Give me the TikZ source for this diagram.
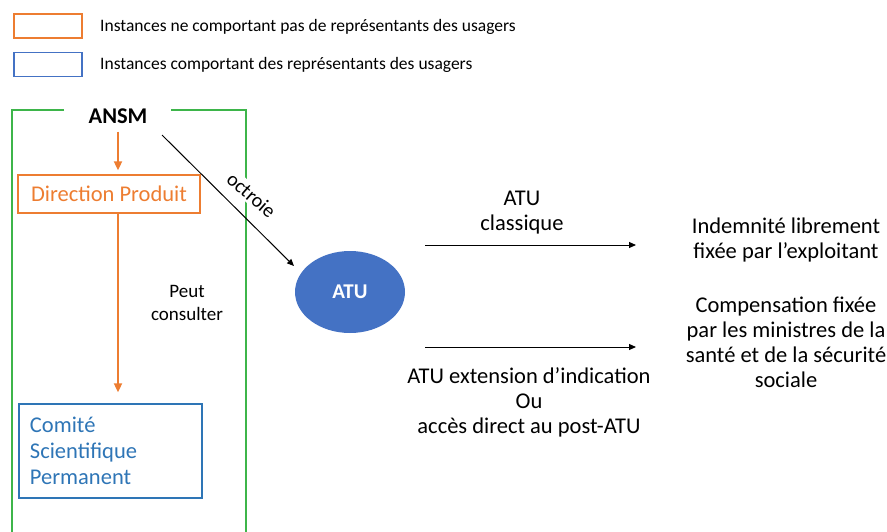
\documentclass[tikz,border=0pt]{standalone}
\usepackage{fontspec}
\setmainfont{Carlito}
\usetikzlibrary{arrows.meta,shapes.geometric}
\definecolor{orng}{HTML}{ED7D31}
\definecolor{blu}{HTML}{2E75B6}
\definecolor{lgblu}{HTML}{4472C4}
\definecolor{grn}{HTML}{3DB54A}
\definecolor{atufill}{HTML}{4472C4}
\begin{document}
\begin{tikzpicture}[x=1pt,y=-1pt,
  main/.style={font=\fontsize{22.5}{25}\selectfont, align=center, inner sep=0pt},
  small/.style={font=\fontsize{19}{23}\selectfont, align=center, inner sep=0pt},
  legtxt/.style={font=\fontsize{17.5}{20}\selectfont, anchor=west, inner sep=0pt},
  legbox/.style={draw=#1, line width=1.3pt, minimum width=68pt, minimum height=24pt, inner sep=0pt},
  tip/.style={-{Triangle[length=7pt,width=6pt]}},
  blackarrow/.style={draw=black, line width=1pt, tip},
  orangearrow/.style={draw=orng, line width=1.8pt, -{Triangle[length=9pt,width=8pt]}}
]
\useasboundingbox (0,0) rectangle (887,531);

% legend
\node[legbox=orng] (lg1) at (48,26) {};
\node[legbox=lgblu] (lg2) at (48,64.5) {};
\node[legtxt] (lt1) at (100,27) {Instances ne comportant pas de représentants des usagers};
\node[legtxt] (lt2) at (100,64.5) {Instances comportant des représentants des usagers};

% green frame
\draw[grn, line width=1.2pt] (64,110) -- (12,110) -- (12,540);
\draw[grn, line width=1.2pt] (171,110) -- (246,110) -- (246,540);

% nodes
\node[font=\fontsize{22.5}{25}\selectfont\bfseries, inner sep=0pt] (ansm) at (118,116) {ANSM};
\node[draw=orng, text=orng, line width=1.3pt, minimum width=182pt, minimum height=38pt,
      inner sep=0pt, font=\fontsize{22.5}{25}\selectfont] (dp) at (109,194) {Direction Produit};
\node[draw=blu, text=blu, line width=1.3pt, minimum height=94pt, text width=161pt,
      inner xsep=11pt, inner ysep=0pt, align=left, font=\fontsize{22.5}{26}\selectfont] (com) at (110.5,451)
      {Comité\\Scientifique\\Permanent};
\node[small] (peut) at (187,303) {Peut\\consulter};

\node[ellipse, fill=atufill, minimum width=110pt, minimum height=82pt, inner sep=0pt,
      text=white, font=\fontsize{21}{24}\selectfont\bfseries] (atu) at (350,292) {ATU};

\node[small, font=\fontsize{20}{23}\selectfont, rotate=-41, fill=white, inner sep=2pt] (oct) at (251.5,195) {octroie};

\node[main] (cls) at (522,212.5) {ATU\\classique};
\node[main] (ext) at (529,402.5) {ATU extension d’indication\\Ou\\accès direct au post-ATU};
\node[main] (ind) at (786,240) {Indemnité librement\\fixée par l’exploitant};
\node[main] (cmp) at (786,342.5) {Compensation fixée\\par les ministres de la\\santé et de la sécurité\\sociale};

% connectors
\draw[orangearrow, shorten <=8pt, shorten >=4pt] (ansm) -- (ansm |- dp.north);
\draw[orangearrow, shorten >=11pt] (ansm |- dp.south) -- (ansm |- com.north);
\coordinate (o1) at (162,135);
\coordinate (o2) at (294,266);
\draw[blackarrow] (o1) -- (o2);
\coordinate (a1s) at (425,245);
\coordinate (a1e) at (636,245);
\coordinate (a2s) at (425,347);
\coordinate (a2e) at (636,347);
\draw[blackarrow] (a1s) -- (a1e);
\draw[blackarrow] (a2s) -- (a2e);
\end{tikzpicture}
\end{document}
